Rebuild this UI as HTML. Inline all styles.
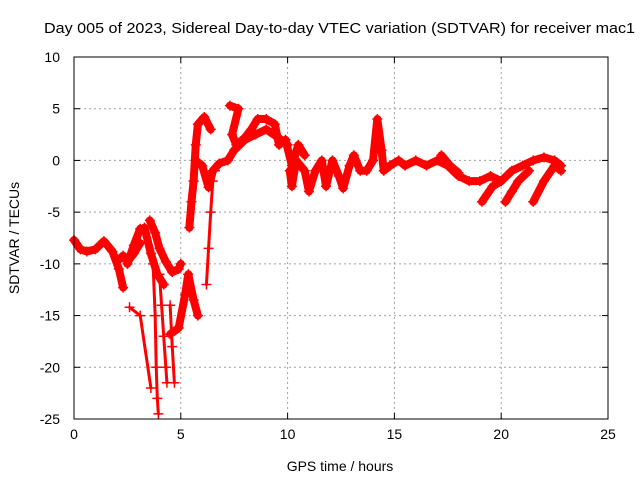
<!DOCTYPE html>
<html><head><meta charset="utf-8"><style>
body{margin:0;background:#fff}
svg{display:block;font-family:"Liberation Sans",sans-serif}
</style></head><body>
<svg id="chart" width="640" height="480">
<text x="44" y="33" font-size="15" textLength="591" lengthAdjust="spacingAndGlyphs">Day 005 of 2023, Sidereal Day-to-day VTEC variation (SDTVAR) for receiver mac1</text>
<text x="340" y="471" font-size="14" text-anchor="middle">GPS time / hours</text>
<text transform="translate(19,238) rotate(-90)" font-size="14" text-anchor="middle">SDTVAR / TECUs</text>
<g id="grid"></g>
<g id="marks"></g>
<rect x="74" y="57" width="534" height="362" fill="none" stroke="#000" stroke-width="1"/>
<g id="ticks"></g>
</svg>
<script>
const xTicks=[0,5,10,15,20,25];
const yTicks=[10,5,0,-5,-10,-15,-20,-25];
const trackA=[[0,-7.7],[0.3,-8.6],[0.6,-8.8],[1.0,-8.6],[1.4,-7.8],[1.8,-8.8],[2.1,-10.5],[2.3,-12.3]];
const trackA2=[[2.1,-9.6],[2.3,-9.2]];
const trackB=[[2.5,-10],[2.8,-8.2],[3.1,-6.6]];
const trackB2=[[2.5,-9.8],[2.8,-9],[3.1,-8]];
const trackC=[[3.55,-5.8],[3.8,-7],[4.0,-8.5],[4.3,-9.8],[4.6,-10.8],[4.9,-10.5],[5.0,-10]];
const trackC2=[[3.3,-6.5],[3.6,-9],[3.9,-11],[4.2,-12]];
const spikeA=[[3.7,-10],[3.8,-15],[3.85,-20],[3.9,-23],[3.95,-24.5]];
const spikeB=[[4.0,-11],[4.1,-14],[4.2,-17],[4.3,-20],[4.35,-21.5]];
const spikeC=[[4.5,-14],[4.6,-18],[4.7,-21.5]];
const spikeD=[[2.6,-14.2],[3.1,-15],[3.6,-22]];
const trackD=[[4.5,-16.8],[4.9,-16.2],[5.2,-13],[5.35,-11],[5.6,-13.5],[5.8,-15]];
const trackE=[[5.4,-6.5],[5.5,-4],[5.6,-2],[5.7,1.5],[5.8,3.5],[6.1,4.2],[6.4,3]];
const trackE2=[[5.7,0],[6.0,-0.5],[6.3,-2.6],[6.5,-1],[6.8,-0.3],[7.2,0],[7.5,1],[8.0,2],[8.5,2.5],[9.0,3],[9.5,2.3],[10.0,1.5]];
const trackF=[[6.2,-12],[6.3,-8.5],[6.4,-5],[6.5,-2],[6.6,-1]];
const trackG=[[7.3,5.3],[7.7,5],[7.4,2.5],[7.6,1.5],[8.0,2.2],[8.3,3],[8.6,4],[9.0,4],[9.4,3.5],[9.6,1.5],[9.9,2],[10.2,-0.5],[10.5,1.5],[10.8,0.5]];
const trackH=[[10.1,-1],[10.2,-2.5],[10.4,0],[10.8,-1],[11.0,-3],[11.3,-1],[11.6,0],[11.8,-2.5],[12.1,0],[12.4,-1.5],[12.6,-2.7],[12.9,-0.5],[13.1,0.5],[13.4,-1],[13.7,-1],[14.0,0],[14.2,4],[14.4,1],[14.5,-1],[14.8,-0.5]];
const trackI=[[14.8,-0.5],[15.2,0],[15.5,-0.5],[16.0,0],[16.5,-0.5],[17.0,0],[17.5,-0.5],[18.0,-1.5],[18.5,-2],[19.0,-2],[19.5,-1.5],[20.0,-2],[20.5,-1],[21.0,-0.5],[21.5,0],[22.0,0.3],[22.5,0],[22.8,-0.5]];
const trackJ=[[17.2,0.5],[17.6,-0.5],[18.0,-1.2]];
const trackK=[[19.1,-4],[19.6,-2.5],[20.0,-2]];
const trackL=[[20.2,-4],[20.5,-3],[20.8,-2],[21.3,-1]];
const trackM=[[21.5,-4],[22.0,-2],[22.5,-0.5],[22.8,-1]];
const tracks=[trackA,trackA2,trackB,trackB2,trackC,trackC2,spikeA,spikeB,spikeC,spikeD,trackD,trackE,trackE2,trackF,trackG,trackH,trackI,trackJ,trackK,trackL,trackM];
const sparse=[spikeA,spikeB,spikeC,spikeD,trackF];
const X0=74,X1=608,Y0=419,Y1=57;
function xs(h){return X0+(h-0)/(25-0)*(X1-X0);}
function ys(v){return Y0-(v+25)/(35)*(Y0-Y1);}
const NS="http://www.w3.org/2000/svg";
const grid=document.getElementById('grid'),ticks=document.getElementById('ticks'),marks=document.getElementById('marks');
function mk(t,a,p){const e=document.createElementNS(NS,t);for(const k in a)e.setAttribute(k,a[k]);p.appendChild(e);return e;}
xTicks.forEach(t=>{const x=xs(t);
 if(t>0&&t<25){const l=mk('line',{x1:x,x2:x,y1:Y0,y2:Y1,stroke:'#a0a0a0','stroke-dasharray':'2,3'},grid);
 
 }
 mk('line',{x1:x,x2:x,y1:Y0,y2:Y0-6,stroke:'#000'},ticks);mk('line',{x1:x,x2:x,y1:Y1,y2:Y1+6,stroke:'#000'},ticks);
 const tx=mk('text',{x:x,y:Y0+20,'font-size':14,'text-anchor':'middle'},ticks);tx.textContent=t;
 
 });
yTicks.forEach(t=>{const y=ys(t);
 if(t<10&&t>-25){const l=mk('line',{x1:X0,x2:X1,y1:y,y2:y,stroke:'#a0a0a0','stroke-dasharray':'2,3'},grid);
 
 }
 mk('line',{x1:X0,x2:X0+6,y1:y,y2:y,stroke:'#000'},ticks);mk('line',{x1:X1,x2:X1-6,y1:y,y2:y,stroke:'#000'},ticks);
 const tx=mk('text',{x:X0-14,y:y+5,'font-size':14,'text-anchor':'end'},ticks);tx.textContent=t;
 
 });
tracks.forEach(tr=>{
 const sp=sparse.includes(tr);
 const pl=mk('polyline',{points:tr.map(p=>xs(p[0])+','+ys(p[1])).join(' '),fill:'none',stroke:'#f00','stroke-width':sp?3:8,'stroke-linejoin':'round','stroke-linecap':'round'},marks);
 
 
 tr.forEach(p=>{const x=xs(p[0]),y=ys(p[1]);
  const m=mk('path',{d:`M${x-5},${y}H${x+5}M${x},${y-5}V${y+5}`,stroke:'#f00','stroke-width':1.5},marks);
  
  });
});
</script>
</body></html>
